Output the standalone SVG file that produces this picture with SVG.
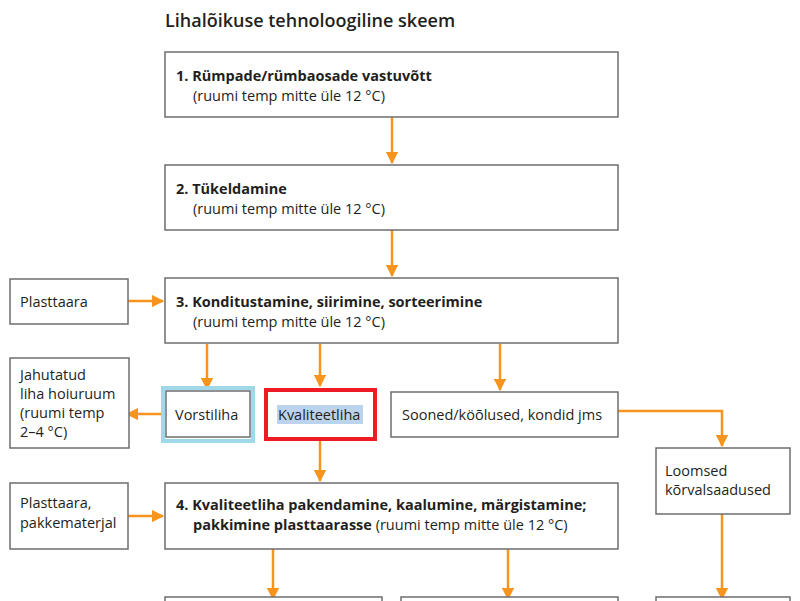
<svg xmlns="http://www.w3.org/2000/svg" width="800" height="601" viewBox="0 0 800 601">
<style>
.b{fill:#fff;stroke:#6d6e70;stroke-width:1.5}
.t{font-family:"Open Sans","Liberation Sans",sans-serif;font-size:14.5px;fill:#231f20}
.h{font-weight:bold}
.c{stroke:#f7941d;stroke-width:2.5;fill:none}
</style>
<defs><marker id="a" viewBox="0 0 10 10" refX="9" refY="5" markerWidth="5" markerHeight="5" orient="auto"><path d="M0,0L10,5L0,10z" fill="#f7941d"/></marker></defs>
<rect width="800" height="601" fill="#fff"/>
<text x="165" y="27" class="t" style="font-size:18px;font-weight:600">Lihalõikuse tehnoloogiline skeem</text>
<g id="connectors">
<path class="c" d="M392,117V163" marker-end="url(#a)"/>
<path class="c" d="M392,230V276" marker-end="url(#a)"/>
<path class="c" d="M128,301H163" marker-end="url(#a)"/>
<path class="c" d="M207,344V389" marker-end="url(#a)"/>
<path class="c" d="M320,344V386" marker-end="url(#a)"/>
<path class="c" d="M500,344V390" marker-end="url(#a)"/>
<path class="c" d="M162,414H127" marker-end="url(#a)"/>
<path class="c" d="M320,440V481" marker-end="url(#a)"/>
<path class="c" d="M128,516H163" marker-end="url(#a)"/>
<path class="c" d="M618,411H722V446" marker-end="url(#a)"/>
<path class="c" d="M722,514V599" marker-end="url(#a)"/>
<path class="c" d="M273,549V599" marker-end="url(#a)"/>
<path class="c" d="M508,549V599" marker-end="url(#a)"/>
</g>
<g id="n1"><rect class="b" x="165" y="52" width="453" height="65"/><text class="t h" x="176" y="81">1. Rümpade/rümbaosade vastuvõtt</text><text class="t" x="193" y="101">(ruumi temp mitte üle 12 °C)</text></g>
<g id="n2"><rect class="b" x="165" y="165" width="453" height="65"/><text class="t h" x="176" y="194">2. Tükeldamine</text><text class="t" x="193" y="214">(ruumi temp mitte üle 12 °C)</text></g>
<g id="n3"><rect class="b" x="165" y="278" width="453" height="65"/><text class="t h" x="176" y="307">3. Konditustamine, siirimine, sorteerimine</text><text class="t" x="193" y="327">(ruumi temp mitte üle 12 °C)</text></g>
<g id="p1"><rect class="b" x="10" y="279" width="118" height="45"/><text class="t" x="20" y="307">Plasttaara</text></g>
<g id="jah"><rect class="b" x="10" y="358" width="119" height="90"/><text class="t" x="20" y="380">Jahutatud</text><text class="t" x="20" y="399">liha hoiuruum</text><text class="t" x="20" y="418">(ruumi temp</text><text class="t" x="20" y="437">2–4 °C)</text></g>
<g id="vor"><rect x="163" y="388" width="90" height="53" fill="none" stroke="#9ed8e9" stroke-width="4"/><rect class="b" x="166" y="391" width="84" height="46"/><text class="t" x="175" y="420">Vorstiliha</text></g>
<g id="kva"><rect x="266" y="390" width="109" height="49" fill="none" stroke="#ed1c24" stroke-width="4"/><rect x="277" y="405" width="86" height="19" fill="#bcd3ee"/><text class="t" x="278" y="420">Kvaliteetliha</text></g>
<g id="soo"><rect class="b" x="391" y="392" width="227" height="45"/><text class="t" x="402" y="420">Sooned/köõlused, kondid jms</text></g>
<g id="loo"><rect class="b" x="656" y="448" width="134" height="66"/><text class="t" x="665" y="476">Loomsed</text><text class="t" x="665" y="495">kõrvalsaadused</text></g>
<g id="p2"><rect class="b" x="10" y="483" width="118" height="66"/><text class="t" x="20" y="508">Plasttaara,</text><text class="t" x="20" y="528">pakkematerjal</text></g>
<g id="n4"><rect class="b" x="165" y="483" width="453" height="66"/><text class="t h" x="176" y="510">4. Kvaliteetliha pakendamine, kaalumine, märgistamine;</text><text class="t" x="193" y="530"><tspan class="h">pakkimine plasttaarasse</tspan> (ruumi temp mitte üle 12 °C)</text></g>
<g id="bottom"><rect class="b" x="165" y="597" width="217" height="10"/><rect class="b" x="401" y="597" width="217" height="10"/><rect class="b" x="656" y="597" width="134" height="10"/></g>
</svg>
